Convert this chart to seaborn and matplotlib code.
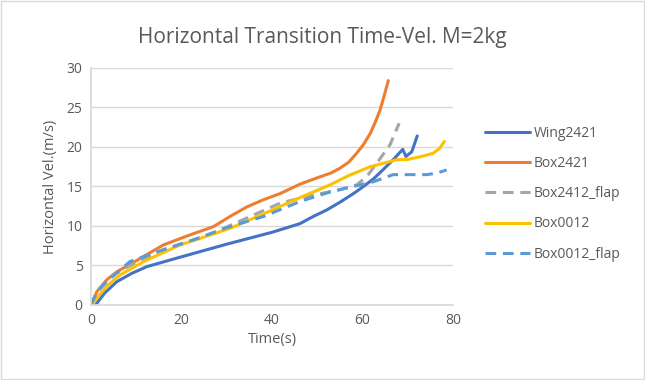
import matplotlib
matplotlib.use("Agg")
import matplotlib.pyplot as plt
import seaborn as sns
import pandas as pd
from matplotlib.patches import Rectangle

sns.set_theme(style="white")
plt.rcParams['font.family'] = ['Open Sans', 'DejaVu Sans']

wing2421_t = [1.0, 3.0, 5.7, 9.0, 12.3, 20, 30, 40, 46.2, 49.1, 52, 55, 58, 60.2, 62.5, 64.5, 66.8, 68.9, 69.6, 70.9, 72.1]
wing2421_v = [0.0, 1.5, 2.95, 4.0, 4.85, 6.1, 7.7, 9.2, 10.3, 11.2, 12.0, 13.0, 14.1, 15.0, 16.0, 17.1, 18.4, 19.7, 18.8, 19.4, 21.4]

box2421_t = [0.0, 1.3, 3.5, 5.7, 10, 16, 22, 27, 31, 34.4, 38, 41.8, 46.2, 50, 53, 55, 57, 58.7, 60.2, 61.7, 62.8, 63.9, 64.8, 65.7]
box2421_v = [0.0, 1.7, 3.2, 4.2, 5.6, 7.6, 8.9, 9.9, 11.3, 12.4, 13.3, 14.1, 15.3, 16.1, 16.7, 17.3, 18.1, 19.2, 20.3, 21.7, 23.1, 24.7, 26.5, 28.4]

box2412f_t = [0.0, 1.3, 3.5, 6.0, 10, 16, 22, 27, 34, 41.8, 49.1, 55, 58.7, 61, 63.1, 66.1, 68.1]
box2412f_v = [0.0, 1.7, 3.1, 4.2, 5.4, 7.0, 8.1, 9.1, 10.9, 12.9, 13.9, 14.6, 15.2, 16.3, 17.9, 20.3, 23.0]

box0012_t = [0.0, 1.5, 3.5, 6.4, 12, 19.7, 25, 30.7, 38, 46.2, 52.8, 57, 61.7, 65, 67.6, 69.8, 73, 75.6, 77, 78.1]
box0012_v = [0.0, 1.0, 2.4, 3.8, 5.6, 7.6, 8.6, 9.7, 11.5, 13.6, 15.2, 16.4, 17.5, 18.0, 18.4, 18.4, 18.8, 19.2, 19.8, 20.7]

box0012f_t = [0.0, 1.3, 3.5, 6.0, 8.6, 15, 23.4, 30, 38.1, 46.2, 52.8, 58, 62.4, 66.8, 70, 74.2, 76.5, 78.6]
box0012f_v = [0.0, 1.6, 3.0, 4.2, 5.5, 6.8, 8.4, 9.8, 11.2, 13.1, 14.3, 15.0, 15.6, 16.5, 16.5, 16.5, 16.7, 17.1]

series = [
    ("Wing2421", wing2421_t, wing2421_v, "#4472C4", "-"),
    ("Box2421", box2421_t, box2421_v, "#ED7D31", "-"),
    ("Box2412_flap", box2412f_t, box2412f_v, "#A5A5A5", (0, (3.5, 2.2))),
    ("Box0012", box0012_t, box0012_v, "#FFC000", "-"),
    ("Box0012_flap", box0012f_t, box0012f_v, "#5B9BD5", (0, (3.5, 2.2))),
]

fig = plt.figure(figsize=(6.45, 3.8), dpi=100)
ax = fig.add_axes([0.1411, 0.1974, 0.7023 - 0.1411, 0.8211 - 0.1974])

for name, t, v, c, ls in series:
    df = pd.DataFrame({"t": t, "v": v})
    sns.lineplot(data=df, x="t", y="v", ax=ax, color=c, linestyle=ls, linewidth=2.2,
                 label=name, sort=False, estimator=None)

ax.set_xlim(0, 80)
ax.set_ylim(0, 30)
ax.set_xticks([0, 20, 40, 60, 80])
ax.set_yticks([0, 5, 10, 15, 20, 25, 30])
ax.grid(axis="y", color="#D9D9D9", linewidth=1)
ax.set_axisbelow(True)
for s in ["top", "right"]:
    ax.spines[s].set_visible(False)
ax.spines["left"].set_color("#D9D9D9")
ax.spines["bottom"].set_color("#D9D9D9")
ax.tick_params(axis="both", colors="#595959", labelsize=10, length=0, pad=6)
ax.set_xlabel("Time(s)", fontsize=10.5, color="#595959", labelpad=3)
ax.set_ylabel("Horizontal Vel.(m/s)", fontsize=10.5, color="#595959", labelpad=6)

fig.suptitle("Horizontal Transition Time-Vel. M=2kg", fontsize=15, color="#595959", y=0.93)

leg = ax.legend(loc="center left", bbox_to_anchor=(1.055, 0.47), frameon=False,
                fontsize=10, labelspacing=1.1, handlelength=3.2, handletextpad=0.3)
for txt in leg.get_texts():
    txt.set_color("#595959")

fig.patches.append(Rectangle((0.002, 0.003), 0.996, 0.994, transform=fig.transFigure,
                             fill=False, edgecolor="#D9D9D9", linewidth=1))

fig.savefig("out.png", dpi=100)
